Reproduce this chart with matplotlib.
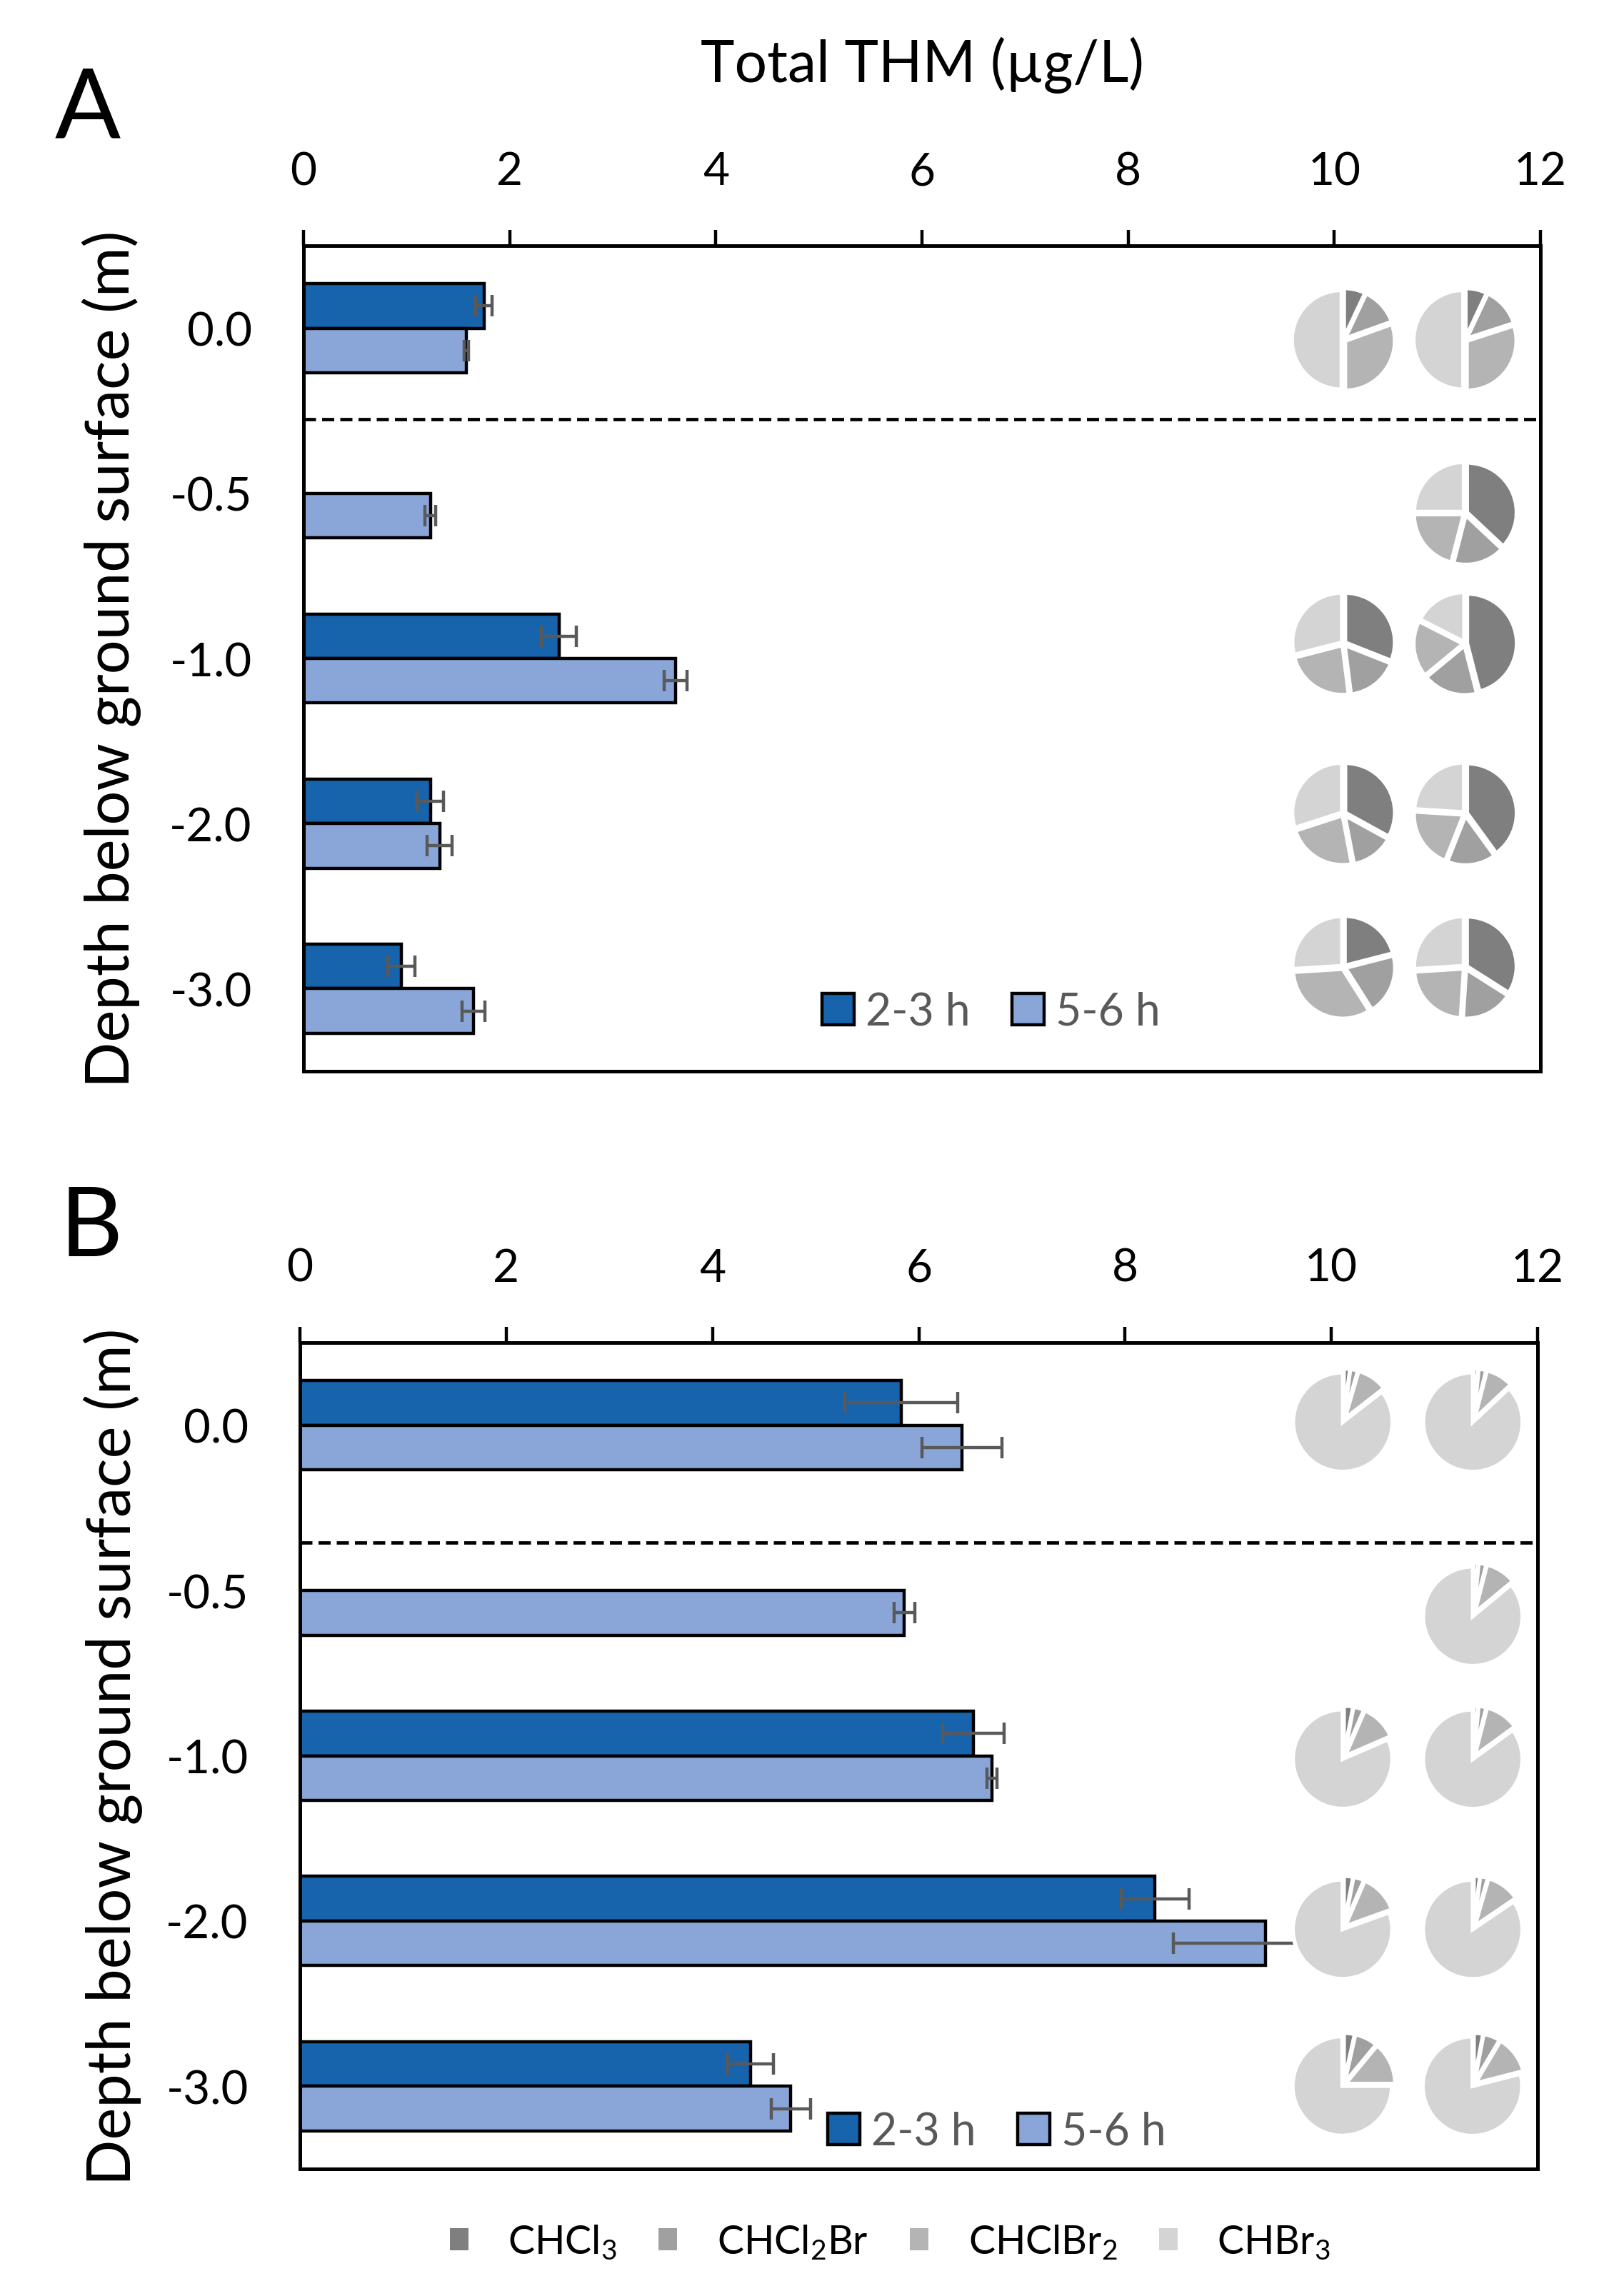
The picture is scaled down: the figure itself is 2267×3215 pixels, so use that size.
import numpy as np
import matplotlib
matplotlib.use('Agg')
import matplotlib.pyplot as plt
from matplotlib.patches import Patch

plt.rcParams['font.family'] = ['Lato', 'DejaVu Sans']
plt.rcParams['mathtext.fontset'] = 'custom'
plt.rcParams['mathtext.rm'] = 'Lato'
plt.rcParams['mathtext.it'] = 'Lato:italic'
plt.rcParams['mathtext.bf'] = 'Lato:bold'

# ---------------- data ----------------
depths = ['0.0', '-0.5', '-1.0', '-2.0', '-3.0']
series = ['2-3 h', '5-6 h']
compounds = [r'CHCl$_3$', r'CHCl$_2$Br', r'CHClBr$_2$', r'CHBr$_3$']
x_ticks = [0, 2, 4, 6, 8, 10, 12]

a_early = [1.75, np.nan, 2.48, 1.23, 0.95]
a_early_err = [0.08, np.nan, 0.17, 0.13, 0.13]
a_late = [1.58, 1.23, 3.61, 1.32, 1.65]
a_late_err = [0.02, 0.05, 0.11, 0.12, 0.11]

b_early = [5.83, np.nan, 6.53, 8.29, 4.37]
b_early_err = [0.55, np.nan, 0.30, 0.33, 0.22]
b_late = [6.42, 5.86, 6.71, 9.36, 4.76]
b_late_err = [0.39, 0.10, 0.05, 0.89, 0.19]

# THM speciation (% of CHCl3, CHCl2Br, CHClBr2, CHBr3)
a_pie_early = [[7, 12.5, 30.5, 50], None, [31, 17, 23, 29], [33, 14, 23, 30], [21, 20, 33, 26]]
a_pie_late = [[7, 13, 30, 50], [37, 17, 21, 25], [46, 18, 18.5, 17.5], [40, 16, 20, 24], [34, 17, 23, 26]]
b_pie_early = [[2, 2.5, 10, 85.5], None, [3, 3.5, 12, 81.5], [3, 3.5, 13, 80.5], [3.5, 7.5, 14, 75]]
b_pie_late = [[1.5, 2.5, 9, 87], [1.5, 2.5, 10, 86], [1.5, 2.5, 11, 85], [2, 2.5, 11, 84.5], [3, 5.5, 12.5, 79]]

# ---------------- style / layout ----------------
DARK = '#1764ad'
LIGHT = '#8aa6d9'
PIE_COLORS = ['#7f7f7f', '#a0a0a0', '#b4b4b4', '#d4d4d4']
ERR_COLOR = '#595959'
BAR_H = 0.27

W, H = 2267, 3216
DPI = 200
fig = plt.figure(figsize=(W / DPI, H / DPI), dpi=DPI)
fig.patch.set_facecolor('white')

def frac_box(l, t, r, b):
    return [l / W, 1 - b / H, (r - l) / W, (b - t) / H]

axA = fig.add_axes(frac_box(425, 345, 2157, 1501))
axB = fig.add_axes(frac_box(420, 1881, 2153, 3038))

panels = [
    dict(ax=axA, early=a_early, early_err=a_early_err, late=a_late, late_err=a_late_err,
         pe=a_pie_early, pl=a_pie_late, dash=0.55, leg=(0.556, 0.072),
         pie_x=(10.09, 11.27), pie_dy=[0.07, 0.12, -0.09, -0.06, -0.13], letter='A',
         letter_xy=(123, 155), ylab_x=-0.131),
    dict(ax=axB, early=b_early, early_err=b_early_err, late=b_late, late_err=b_late_err,
         pe=b_pie_early, pl=b_pie_late, dash=0.71, leg=(0.563, 0.045),
         pie_x=(10.12, 11.38), pie_dy=[-0.03, 0.145, 0.01, 0.04, -0.01], letter='B',
         letter_xy=(128, 1721), ylab_x=-0.127),
]

ypos = np.arange(len(depths))

for p in panels:
    ax = p['ax']
    early = np.array(p['early'], dtype=float)
    late = np.array(p['late'], dtype=float)
    eerr = np.array(p['early_err'], dtype=float)
    lerr = np.array(p['late_err'], dtype=float)
    me = np.isfinite(early)
    ml = np.isfinite(late)

    ax.barh(ypos[me] - BAR_H / 2, early[me], height=BAR_H, color=DARK,
            edgecolor='black', linewidth=1.6, zorder=2)
    ax.barh(ypos[ml] + BAR_H / 2, late[ml], height=BAR_H, color=LIGHT,
            edgecolor='black', linewidth=1.6, zorder=2)
    ax.errorbar(early[me], ypos[me] - BAR_H / 2, xerr=eerr[me], fmt='none',
                ecolor=ERR_COLOR, elinewidth=1.6, capsize=5.5, capthick=1.6, zorder=3)
    ax.errorbar(late[ml], ypos[ml] + BAR_H / 2, xerr=lerr[ml], fmt='none',
                ecolor=ERR_COLOR, elinewidth=1.6, capsize=5.5, capthick=1.6, zorder=3)

    ax.axhline(p['dash'], color='black', lw=1.7, ls=(0, (3.6, 1.8)), zorder=1)

    ax.set_xlim(0, 12)
    ax.set_ylim(len(depths) - 0.5, -0.5)
    ax.xaxis.tick_top()
    ax.set_xticks(x_ticks)
    ax.set_xticklabels([str(t) for t in x_ticks])
    ax.set_yticks(ypos)
    ax.set_yticklabels(depths)
    ax.tick_params(axis='x', direction='out', length=8, width=1.6, pad=19,
                   labelsize=23, colors='black')
    ax.tick_params(axis='y', length=0, pad=26, labelsize=23.5)
    for s in ax.spines.values():
        s.set_linewidth(1.8)
        s.set_color('black')

    ax.set_ylabel('Depth below ground surface (m)', fontsize=30.5)
    ax.yaxis.set_label_coords(p['ylab_x'], 0.5)

    handles = [Patch(facecolor=DARK, edgecolor='black', linewidth=1.6, label=series[0]),
               Patch(facecolor=LIGHT, edgecolor='black', linewidth=1.6, label=series[1])]
    ax.legend(handles=handles, loc='center', bbox_to_anchor=p['leg'], ncol=2,
              frameon=False, fontsize=22.5, handlelength=0.72, handleheight=0.72,
              handletextpad=0.26, columnspacing=0.93, labelcolor=ERR_COLOR,
              borderpad=0, borderaxespad=0)

    fig.text(p['letter_xy'][0] / W, 1 - p['letter_xy'][1] / H, p['letter'],
             fontsize=49, ha='center', va='center')

axA.set_xlabel('Total THM (µg/L)', fontsize=29)
axA.xaxis.set_label_position('top')
axA.xaxis.set_label_coords(0.5, 1.219)
axA.xaxis.label.set_verticalalignment('center')

# ---------------- pies ----------------
R_PX = 69.5
EXPL = 0.04
HALF = 1.13
inv = fig.transFigure.inverted()

def add_pie(ax, xd, yd, fracs):
    cx, cy = ax.transData.transform((xd, yd))
    fx, fy = inv.transform((cx, cy))
    half_px = R_PX * HALF
    w = 2 * half_px / W
    h = 2 * half_px / H
    pax = fig.add_axes([fx - w / 2, fy - h / 2, w, h])
    pax.pie(fracs, colors=PIE_COLORS, startangle=90, counterclock=False,
            explode=[EXPL] * len(fracs), radius=1.0,
            wedgeprops=dict(edgecolor='white', linewidth=2.0))
    pax.set_xlim(-HALF, HALF)
    pax.set_ylim(-HALF, HALF)
    pax.set_aspect('equal')
    pax.set_facecolor('white')
    pax.set_xticks([])
    pax.set_yticks([])
    for s in pax.spines.values():
        s.set_visible(False)

for p in panels:
    for i in range(len(depths)):
        yd = ypos[i] + p['pie_dy'][i]
        if p['pe'][i] is not None:
            add_pie(p['ax'], p['pie_x'][0], yd, p['pe'][i])
        if p['pl'][i] is not None:
            add_pie(p['ax'], p['pie_x'][1], yd, p['pl'][i])

# ---------------- compound legend ----------------
chandles = [Patch(facecolor=c, edgecolor='none', label=l) for c, l in zip(PIE_COLORS, compounds)]
fig.legend(handles=chandles, loc='center', bbox_to_anchor=(0.5497, 0.0236), ncol=4,
           frameon=False, fontsize=20, handlelength=0.47, handleheight=0.47,
           handletextpad=1.0, columnspacing=1.05, borderpad=0)

fig.savefig('out.png', dpi=DPI, facecolor='white')
